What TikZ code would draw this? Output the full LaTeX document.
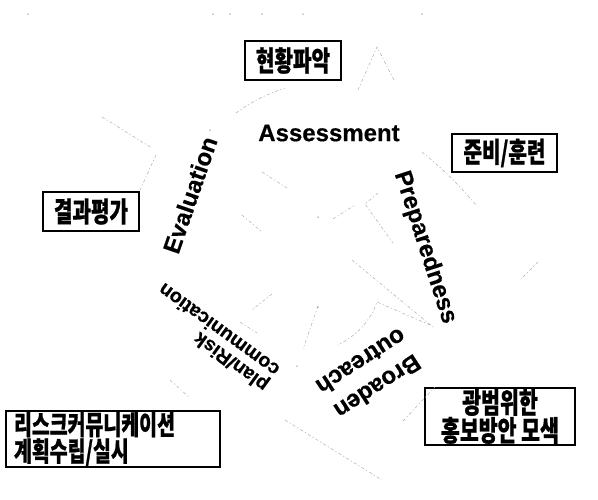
\documentclass[tikz,border=0pt]{standalone}
\usepackage{fontspec}
\setmainfont{Liberation Sans}[BoldFeatures={FakeBold=0.4}]
\newfontfamily\kr[FakeStretch=0.72, FakeBold=0.7]{Noto Sans CJK KR}
\begin{document}
\begin{tikzpicture}[x=1pt,y=-1pt,
  box/.style={draw=black, line width=1.3pt, inner sep=0pt, font=\kr\bfseries\fontsize{28}{28}\selectfont},
  lbl/.style={font=\bfseries\fontsize{24}{30}\selectfont, inner sep=0pt},
  faint/.style={draw=black!32, line width=0.5pt, dash pattern=on 3pt off 2.5pt on 1pt off 2.5pt, line cap=round},
  speck/.style={fill=black!45, circle, inner sep=0pt, minimum size=1.5pt}]
\useasboundingbox (0,0) rectangle (598,499);
% boxes
\node[box, minimum width=96pt, minimum height=39pt] (hh) at (293,60.5) {현황파악};
\node[box, minimum width=105pt, minimum height=38pt] (jb) at (504.5,153) {준비/훈련};
\node[box, minimum width=96pt, minimum height=39pt] (gp) at (91,211.5) {결과평가};
\node[box, minimum width=214pt, minimum height=56pt, text width=198pt, align=left,
      font=\kr\bfseries\fontsize{27}{23.5}\selectfont] (rc) at (113,439) {리스크커뮤니케이션\\계획수립/실시};
\node[box, minimum width=150pt, minimum height=57pt, align=center,
      font=\kr\bfseries\fontsize{28.5}{25}\selectfont] (gb) at (500,416.5) {광범위한\\홍보방안 모색};
% labels
\node[lbl] (as) at (329,133) {Assessment};
\node[lbl, rotate=71] (ev) at (190,195) {Evaluation};
\node[lbl, rotate=-72] (pr) at (425,247.5) {Preparedness};
\node[lbl, rotate=213, align=center] (bo) at (369.5,374.5) {Broaden\\outreach};
\node[lbl, rotate=144, align=left, font=\bfseries\fontsize{19.5}{19}\selectfont] (pl) at (213,338) {plan/Risk\\communication};
% faint remnants of the cycle arrows
\draw[faint] (236,113) to[bend left=8] (285,88);
\draw[faint] (358,90) -- (377,47) -- (395,82);
\draw[faint] (422,152) to[bend left=5] (476,205);
\draw[faint] (102,117) -- (152,148);
\draw[faint] (156,155) -- (140,190);
\draw[faint] (262,172) -- (287,188);
\draw[faint] (378,193) -- (365,204) -- (393,243);
\draw[faint] (333,219) -- (355,205);
\draw[faint] (242,215) -- (262,232);
\draw[faint] (352,260) -- (433,327);
\draw[faint] (430,325) -- (377,302) -- (373,312) to[bend left=15] (338,345);
\draw[faint] (318,306) -- (303,349);
\draw[faint] (272,294) -- (252,310);
\draw[faint] (240,322) -- (257,333);
\draw[faint] (170,380) -- (190,398);
\draw[faint] (285,420) -- (382,480);
\draw[faint] (403,421) -- (435,387);
\draw[faint] (538,262) -- (521,279);
% specks
\foreach \p in {(28,14),(213,14),(230,14),(262,14),(303,14),(422,14),(318,217),(318,307),(297,366),(210,130)}
  \node[speck] at \p {};
\end{tikzpicture}
\end{document}
